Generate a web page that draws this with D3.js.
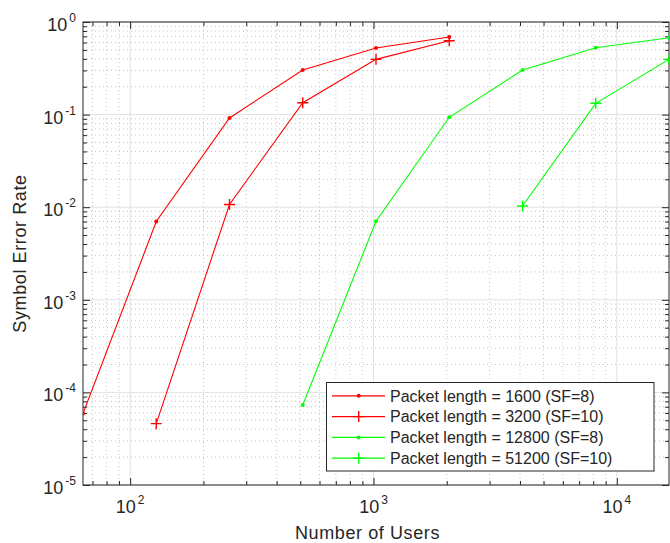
<!DOCTYPE html>
<html><head><meta charset="utf-8">
<script src="https://cdn.jsdelivr.net/npm/d3@7"></script>
<style>
body{margin:0;background:#fff;}
text{font-family:"Liberation Sans",Arial,Helvetica,sans-serif;fill:#262626;}
</style>
</head><body>
<svg id="c" width="670" height="543"></svg>
<script>
// ---- data ----
const usersA = [64, 128, 256, 512, 1024, 2048];
const serA   = [5.9e-5, 7.0e-3, 0.092, 0.303, 0.524, 0.689];
const usersB = [128, 256, 512, 1024, 2048];
const serB   = [4.6e-5, 0.0107, 0.1345, 0.395, 0.628];
const usersC = [512, 1024, 2048, 4096, 8192, 16384];
const serC   = [7.3e-5, 7.05e-3, 0.0935, 0.303, 0.528, 0.677];
const usersD = [4096, 8192, 16384];
const serD   = [0.0103, 0.1324, 0.395];
const seriesNames = ["Packet length = 1600 (SF=8)", "Packet length = 3200 (SF=10)",
                     "Packet length = 12800 (SF=8)", "Packet length = 51200 (SF=10)"];
const xTickExps = [2, 3, 4];
const yTickExps = [-5, -4, -3, -2, -1, 0];
const xLabel = "Number of Users";
const yLabel = "Symbol Error Rate";

// ---- layout ----
const L = 83, R = 669, T = 22, B = 485;
const svg = d3.select("#c");
const x = d3.scaleLog().domain([64, 16384]).range([L, R]);
const y = d3.scaleLog().domain([1e-5, 1]).range([B, T]);

const xMajor = xTickExps.map(e => Math.pow(10, e));
const yMajor = yTickExps.map(e => Math.pow(10, e));
const xMinor = [];
for (let e = 1; e <= 4; e++) for (let m = 2; m <= 9; m++) {
  const v = m * Math.pow(10, e);
  if (v > 64 && v < 16384) xMinor.push(v);
}
const yMinor = [];
for (let e = -5; e <= -1; e++) for (let m = 2; m <= 9; m++) yMinor.push(m * Math.pow(10, e));

// ---- grid ----
const grid = svg.append("g");
grid.selectAll(".xmin").data(xMinor).join("line")
  .attr("x1", d => x(d)).attr("x2", d => x(d)).attr("y1", T).attr("y2", B)
  .attr("stroke", "#c4c4c4").attr("stroke-width", 1).attr("stroke-dasharray", "1,3");
grid.selectAll(".ymin").data(yMinor).join("line")
  .attr("y1", d => y(d)).attr("y2", d => y(d)).attr("x1", L).attr("x2", R)
  .attr("stroke", "#c4c4c4").attr("stroke-width", 1).attr("stroke-dasharray", "1,3");
grid.selectAll(".xmaj").data(xMajor).join("line")
  .attr("x1", d => x(d)).attr("x2", d => x(d)).attr("y1", T).attr("y2", B)
  .attr("stroke", "#e1e1e1").attr("stroke-width", 1);
grid.selectAll(".ymaj").data(yMajor).join("line")
  .attr("y1", d => y(d)).attr("y2", d => y(d)).attr("x1", L).attr("x2", R)
  .attr("stroke", "#e1e1e1").attr("stroke-width", 1);

// ---- axes (ticks inward, box on) ----
function styleAxis(g) {
  g.select(".domain").remove();
  g.selectAll(".tick line").attr("stroke", "#262626");
  g.selectAll(".tick text").remove();
}
svg.append("g").attr("transform", `translate(0,${B})`)
  .call(d3.axisBottom(x).tickValues(xMajor).tickSize(-7).tickFormat("")).call(styleAxis);
svg.append("g").attr("transform", `translate(0,${B})`)
  .call(d3.axisBottom(x).tickValues(xMinor).tickSize(-4).tickFormat("")).call(styleAxis);
svg.append("g").attr("transform", `translate(0,${T})`)
  .call(d3.axisTop(x).tickValues(xMajor).tickSize(-7).tickFormat("")).call(styleAxis);
svg.append("g").attr("transform", `translate(0,${T})`)
  .call(d3.axisTop(x).tickValues(xMinor).tickSize(-4).tickFormat("")).call(styleAxis);
svg.append("g").attr("transform", `translate(${L},0)`)
  .call(d3.axisLeft(y).tickValues(yMajor).tickSize(-7).tickFormat("")).call(styleAxis);
svg.append("g").attr("transform", `translate(${L},0)`)
  .call(d3.axisLeft(y).tickValues(yMinor).tickSize(-4).tickFormat("")).call(styleAxis);
svg.append("g").attr("transform", `translate(${R},0)`)
  .call(d3.axisRight(y).tickValues(yMajor).tickSize(-7).tickFormat("")).call(styleAxis);
svg.append("g").attr("transform", `translate(${R},0)`)
  .call(d3.axisRight(y).tickValues(yMinor).tickSize(-4).tickFormat("")).call(styleAxis);

svg.append("rect").attr("x", L).attr("y", T).attr("width", R - L).attr("height", B - T)
  .attr("fill", "none").attr("stroke", "#262626").attr("stroke-width", 1);

// tick labels
const xl = svg.append("g").selectAll("text").data(xTickExps).join("text")
  .attr("x", d => x(Math.pow(10, d))).attr("y", 513).attr("text-anchor", "middle")
  .attr("font-size", 18);
xl.append("tspan").text("10");
xl.append("tspan").attr("dx", 2).attr("dy", -9).attr("font-size", 12).text(d => d);

const yl = svg.append("g").selectAll("text").data(yTickExps).join("text")
  .attr("x", 76).attr("y", d => y(Math.pow(10, d)) + 9).attr("text-anchor", "end")
  .attr("font-size", 18);
yl.append("tspan").text("10");
yl.append("tspan").attr("dx", 2).attr("dy", -9).attr("font-size", 12).text(d => d < 0 ? "-" + (-d) : d);

// axis labels
svg.append("text").attr("x", 367.5).attr("y", 539).attr("text-anchor", "middle")
  .attr("font-size", 18).attr("letter-spacing", 0.6).text(xLabel);
svg.append("text").attr("transform", "translate(26,253.5) rotate(-90)").attr("text-anchor", "middle")
  .attr("font-size", 18).attr("letter-spacing", 0.6).text(yLabel);

// ---- series ----
svg.append("clipPath").attr("id", "clip").append("rect")
  .attr("x", L).attr("y", T).attr("width", R - L).attr("height", B - T);
const plot = svg.append("g").attr("clip-path", "url(#clip)");
const series = [
  {u: usersA, s: serA, color: "#ff0000", marker: "dot"},
  {u: usersB, s: serB, color: "#ff0000", marker: "plus"},
  {u: usersC, s: serC, color: "#00ff00", marker: "dot"},
  {u: usersD, s: serD, color: "#00ff00", marker: "plus"}
];
const line = d3.line().x(d => x(d[0])).y(d => y(d[1]));
function drawMarker(g, cx, cy, type, color) {
  if (type === "dot") {
    g.append("circle").attr("cx", cx).attr("cy", cy).attr("r", 2).attr("fill", color);
  } else {
    g.append("path").attr("d", `M${cx - 5.5},${cy}H${cx + 5.5}M${cx},${cy - 5.5}V${cy + 5.5}`)
      .attr("stroke", color).attr("stroke-width", 1.4).attr("fill", "none");
  }
}
series.forEach(sr => {
  const pts = sr.u.map((u, i) => [u, sr.s[i]]);
  plot.append("path").datum(pts).attr("d", line).attr("fill", "none")
    .attr("stroke", sr.color).attr("stroke-width", 1.1);
  pts.forEach(p => drawMarker(plot, x(p[0]), y(p[1]), sr.marker, sr.color));
});

// ---- legend ----
const lg = svg.append("g");
lg.append("rect").attr("x", 326.5).attr("y", 382.5).attr("width", 327.5).attr("height", 88.5)
  .attr("fill", "#fff").attr("stroke", "#262626").attr("stroke-width", 1);
series.forEach((sr, i) => {
  const yy = 395.8 + i * 20.8;
  lg.append("line").attr("x1", 332).attr("x2", 385).attr("y1", yy).attr("y2", yy)
    .attr("stroke", sr.color).attr("stroke-width", 1.3);
  drawMarker(lg, 358.7, yy, sr.marker, sr.color);
  lg.append("text").attr("x", 390).attr("y", yy + 5.8).attr("font-size", 16)
    .attr("fill", "#000").text(seriesNames[i]);
});
</script>
</body></html>
